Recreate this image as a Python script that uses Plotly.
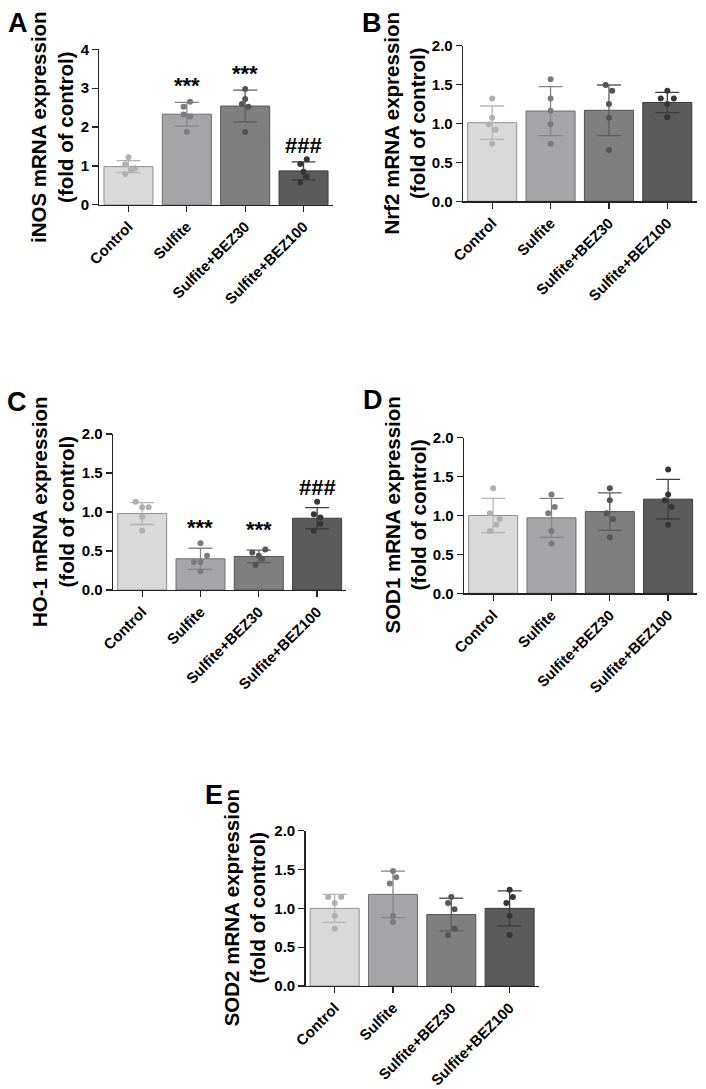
import plotly.graph_objects as go

# ---------------- data ----------------
categories = ["Control", "Sulfite", "Sulfite+BEZ30", "Sulfite+BEZ100"]

inos_mean = [0.98, 2.33, 2.54, 0.87]
inos_sd = [0.155, 0.305, 0.41, 0.23]
inos_points = [[1.22, 1.04, 0.94, 0.89, 0.79],
               [2.65, 2.52, 2.32, 2.27, 1.88],
               [2.98, 2.72, 2.59, 2.52, 1.87],
               [1.17, 1.05, 0.85, 0.72, 0.57]]
inos_sig = ["", "***", "***", "###"]

nrf2_mean = [1.01, 1.16, 1.17, 1.27]
nrf2_sd = [0.215, 0.315, 0.325, 0.13]
nrf2_points = [[1.32, 1.075, 0.99, 0.92, 0.74],
               [1.57, 1.32, 1.165, 0.99, 0.74],
               [1.495, 1.42, 1.25, 1.075, 0.66],
               [1.42, 1.32, 1.32, 1.25, 1.08]]
nrf2_sig = ["", "", "", ""]

ho1_mean = [0.98, 0.40, 0.43, 0.92]
ho1_sd = [0.14, 0.135, 0.08, 0.135]
ho1_points = [[1.13, 1.06, 1.06, 0.94, 0.76],
              [0.60, 0.44, 0.36, 0.36, 0.24],
              [0.52, 0.48, 0.44, 0.40, 0.32],
              [1.13, 0.97, 0.93, 0.85, 0.76]]
ho1_sig = ["", "***", "***", "###"]

sod1_mean = [1.00, 0.97, 1.05, 1.21]
sod1_sd = [0.22, 0.25, 0.24, 0.255]
sod1_points = [[1.35, 1.03, 0.955, 0.88, 0.80],
               [1.27, 1.11, 1.03, 0.80, 0.64],
               [1.35, 1.195, 1.03, 0.955, 0.72],
               [1.59, 1.27, 1.195, 1.11, 0.88]]
sod1_sig = ["", "", "", ""]

sod2_mean = [1.00, 1.18, 0.92, 1.00]
sod2_sd = [0.18, 0.30, 0.21, 0.225]
sod2_points = [[1.146, 1.146, 1.07, 0.906, 0.738],
               [1.48, 1.40, 1.32, 0.906, 0.824],
               [1.146, 1.07, 0.99, 0.738, 0.657],
               [1.24, 1.146, 1.07, 0.906, 0.657]]
sod2_sig = ["", "", "", ""]

# ---------------- layout / style helpers ----------------
# horizontal placement of dots (in dot-columns) so they don't overlap
inos_cols = [[0, -0.5, 1, 0.5, -0.5], [0.5, -0.5, -0.5, 0.5, 0], [0, 0, -0.5, 0.5, 0], [0.5, -0.5, 0, 0.5, -0.5]]
nrf2_cols = [[0, 0, -0.5, 0.5, 0], [0, 0, 0, 0, 0], [-0.5, 0.5, 0, 0, 0], [0, -1, 1, 0, 0]]
ho1_cols = [[-1, 0, 1, 0, 0], [0, 1, -1, 0, 0], [1, -1, 0, 0.5, -0.5], [0, -0.5, 0.5, 0.5, -0.5]]
sod1_cols = [[0, -0.5, 1, 0.5, -0.5], [0, 0.5, -0.5, 0, 0], [0, 0, -0.5, 0.5, 0], [0, 0, -0.5, 0.5, 0]]
sod2_cols = [[-1, 1, 0, 0, 0], [0, 0.5, -0.5, 0, 0], [0, -0.5, 0.5, 0.5, -0.5], [0, 0.5, -0.5, 0, 0]]
COL_UNIT = 0.112  # category units per dot column

bar_colors = ["#d9d9d9", "#a5a5a8", "#7f7f7f", "#5b5b5b"]
bar_line = ["#8f8f8f", "#6f6f72", "#555555", "#3c3c3c"]
dot_colors = ["#b0b0b0", "#7b7b7e", "#555555", "#363636"]
err_colors = ["#b5b5b5", "#858588", "#5e5e5e", "#3e3e3e"]

W, H = 706, 1089
FONT = "Liberation Sans, Arial, Helvetica, sans-serif"


def fx(p):
    return p / W


def fy(p):
    return 1 - p / H


panels = [
    dict(letter="A", title="iNOS mRNA expression<br>(fold of control)", mean=inos_mean, sd=inos_sd,
         pts=inos_points, cols=inos_cols, sig=inos_sig, ymax=4, dtick=1, fmt="d",
         box=(99.3, 332.7, 49.3, 204.7), letter_xy=(17.5, 23.5), title_x=52, sigshift=2),
    dict(letter="B", title="Nrf2 mRNA expression<br>(fold of control)", mean=nrf2_mean, sd=nrf2_sd,
         pts=nrf2_points, cols=nrf2_cols, sig=nrf2_sig, ymax=2, dtick=0.5, fmt=".1f",
         box=(463.0, 696.5, 45.7, 201.3), letter_xy=(371.5, 22.5), title_x=404, sigshift=2),
    dict(letter="C", title="HO-1 mRNA expression<br>(fold of control)", mean=ho1_mean, sd=ho1_sd,
         pts=ho1_points, cols=ho1_cols, sig=ho1_sig, ymax=2, dtick=0.5, fmt=".1f",
         box=(113.0, 346.3, 434.0, 590.0), letter_xy=(16.5, 401.5), title_x=53, sigshift=6),
    dict(letter="D", title="SOD1 mRNA expression<br>(fold of control)", mean=sod1_mean, sd=sod1_sd,
         pts=sod1_points, cols=sod1_cols, sig=sod1_sig, ymax=2, dtick=0.5, fmt=".1f",
         box=(464.0, 697.3, 437.7, 593.3), letter_xy=(372.5, 400.0), title_x=405, sigshift=2),
    dict(letter="E", title="SOD2 mRNA expression<br>(fold of control)", mean=sod2_mean, sd=sod2_sd,
         pts=sod2_points, cols=sod2_cols, sig=sod2_sig, ymax=2, dtick=0.5, fmt=".1f",
         box=(305.5, 538.8, 830.7, 986.0), letter_xy=(213.5, 795.0), title_x=245, sigshift=2),
]

fig = go.Figure()
annotations = []
layout_axes = {}
xpos = list(range(len(categories)))

for k, p in enumerate(panels):
    n = k + 1
    xa = "x" if n == 1 else f"x{n}"
    ya = "y" if n == 1 else f"y{n}"
    x0, x1, yt, yb = p["box"]

    # bars (group means)
    fig.add_trace(go.Bar(
        x=xpos, y=p["mean"], width=0.84, xaxis=xa, yaxis=ya,
        marker=dict(color=bar_colors, line=dict(color=bar_line, width=1)),
        showlegend=False, hoverinfo="skip"))
    # error bars (mean ± SD), one per group to colour them
    for i in xpos:
        fig.add_trace(go.Scatter(
            x=[i], y=[p["mean"][i]], mode="markers", xaxis=xa, yaxis=ya,
            marker=dict(size=1, color="rgba(0,0,0,0)"),
            error_y=dict(type="data", array=[p["sd"][i]], symmetric=True,
                         color=err_colors[i], thickness=1.3, width=12),
            showlegend=False, hoverinfo="skip"))
    # individual points
    for i in xpos:
        fig.add_trace(go.Scatter(
            x=[i + c * COL_UNIT for c in p["cols"][i]], y=p["pts"][i],
            mode="markers", xaxis=xa, yaxis=ya,
            marker=dict(size=6, color=dot_colors[i]),
            showlegend=False, hoverinfo="skip"))
    # significance marks
    for i in xpos:
        if p["sig"][i]:
            annotations.append(dict(
                x=i, y=p["mean"][i] + p["sd"][i], xref=xa, yref=ya,
                text=p["sig"][i], showarrow=False, yanchor="bottom", yshift=p["sigshift"],
                font=dict(family=FONT, size=22, color="black", weight="bold")))
    # y-axis title
    annotations.append(dict(
        x=fx(p["title_x"]), y=fy((yt + yb) / 2), xref="paper", yref="paper",
        text=p["title"], textangle=-90, showarrow=False, xanchor="center", yanchor="middle",
        font=dict(family=FONT, size=20.5, color="black", weight="bold")))
    # panel letter
    annotations.append(dict(
        x=fx(p["letter_xy"][0]), y=fy(p["letter_xy"][1]), xref="paper", yref="paper",
        text=p["letter"], showarrow=False, xanchor="center", yanchor="middle",
        font=dict(family=FONT, size=27, color="black", weight="bold")))

    axis_common = dict(showline=True, linecolor="#222222", linewidth=1.3, ticks="outside",
                       ticklen=6, tickwidth=1.3, tickcolor="#222222", showgrid=False,
                       zeroline=False, automargin=False,
                       tickfont=dict(family=FONT, size=15, color="black", weight="bold"))
    layout_axes["xaxis" if n == 1 else f"xaxis{n}"] = dict(
        axis_common, domain=[fx(x0), fx(x1)], anchor=ya, range=[-0.5, 3.5],
        tickvals=xpos, ticktext=categories, tickangle=-45, fixedrange=True)
    layout_axes["yaxis" if n == 1 else f"yaxis{n}"] = dict(
        axis_common, domain=[fy(yb), fy(yt)], anchor=xa, range=[0, p["ymax"]],
        dtick=p["dtick"], tick0=0, tickformat=p["fmt"], fixedrange=True)

fig.update_layout(
    width=W, height=H, autosize=False,
    margin=dict(l=0, r=0, t=0, b=0, pad=0, autoexpand=False),
    paper_bgcolor="white", plot_bgcolor="white", showlegend=False,
    bargap=0.16, annotations=annotations, **layout_axes)

fig.write_html("out.html",
               config={"displayModeBar": False, "responsive": False, "staticPlot": True},
               post_script="document.body.style.margin='0px';document.body.style.overflow='hidden';")
